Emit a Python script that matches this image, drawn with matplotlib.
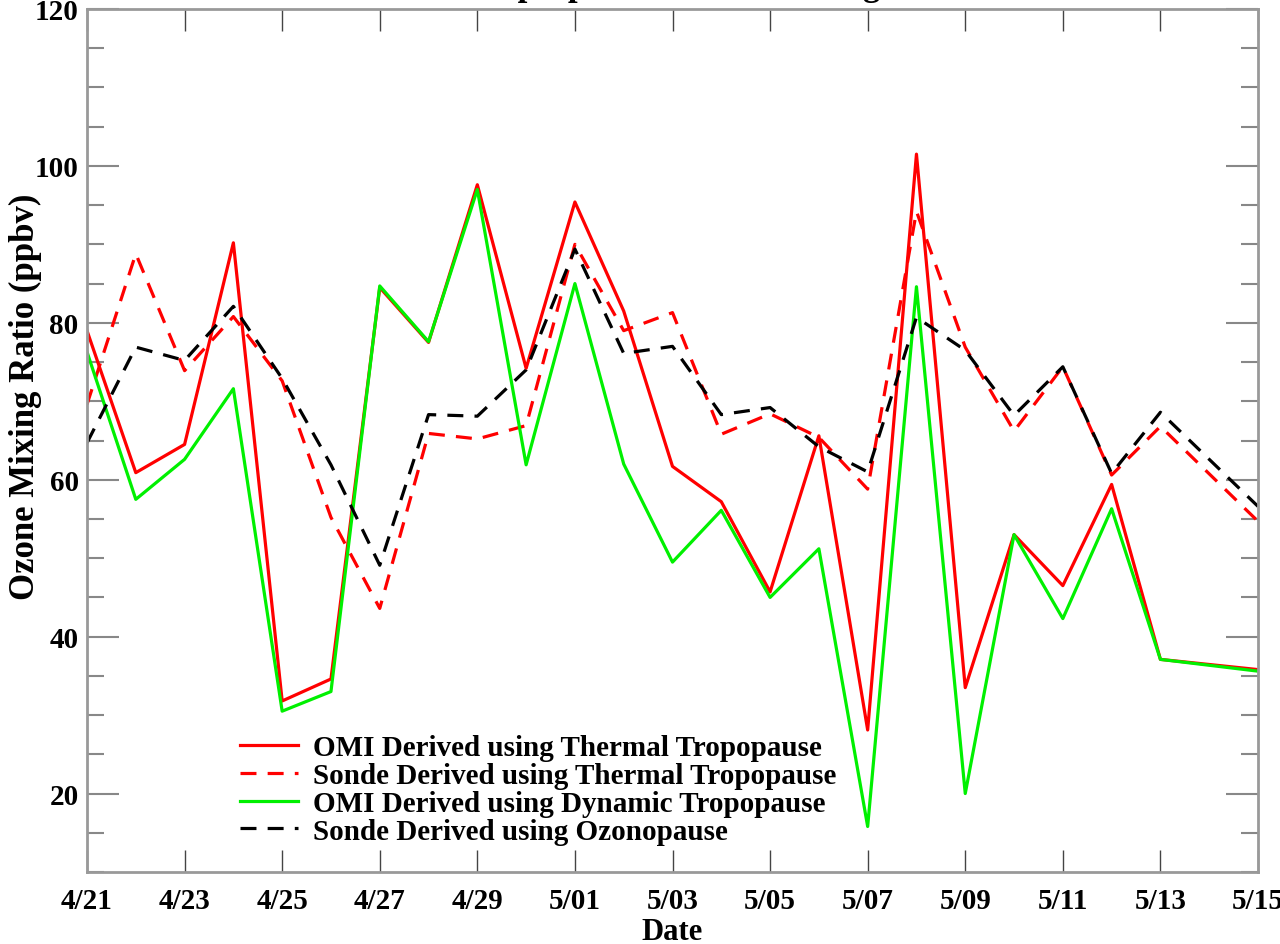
import matplotlib
matplotlib.use("Agg")
import matplotlib.pyplot as plt
from matplotlib.ticker import MultipleLocator
import pandas as pd

# ---- data ----
dates = ["2006-04-21", "2006-04-22", "2006-04-23", "2006-04-24", "2006-04-25",
         "2006-04-26", "2006-04-27", "2006-04-28", "2006-04-29", "2006-04-30",
         "2006-05-01", "2006-05-02", "2006-05-03", "2006-05-04", "2006-05-05",
         "2006-05-06", "2006-05-07", "2006-05-08", "2006-05-09", "2006-05-10",
         "2006-05-11", "2006-05-12", "2006-05-13", "2006-05-15"]

omi_thermal = [79.0, 60.9, 64.5, 90.2, 31.8, 34.6, 84.5, 77.5, 97.6, 74.2,
               95.4, 81.5, 61.7, 57.2, 45.7, 65.6, 28.1, 101.5, 33.5, 53.0,
               46.5, 59.4, 37.1, 35.8]
sonde_thermal = [69.6, 88.8, 73.9, 80.8, 72.6, 55.2, 43.6, 65.9, 65.2, 66.9,
                 90.0, 79.0, 81.3, 65.8, 68.4, 65.4, 58.8, 94.2, 76.9, 66.2,
                 74.4, 60.6, 66.8, 54.7]
omi_dynamic = [76.3, 57.5, 62.6, 71.6, 30.5, 33.0, 84.7, 77.6, 97.0, 61.9,
               85.0, 62.0, 49.5, 56.1, 45.0, 51.2, 15.8, 84.6, 20.0, 53.0,
               42.3, 56.3, 37.1, 35.6]
sonde_ozonopause = [64.7, 76.9, 75.2, 82.1, 72.9, 61.9, 49.1, 68.3, 68.1, 74.0,
                    89.4, 76.1, 77.0, 68.3, 69.2, 64.2, 61.0, 80.7, 76.5, 68.2,
                    74.4, 60.8, 68.6, 56.6]

series_labels = ["OMI Derived using Thermal Tropopause",
                 "Sonde Derived using Thermal Tropopause",
                 "OMI Derived using Dynamic Tropopause",
                 "Sonde Derived using Ozonopause"]

xtick_dates = ["2006-04-21", "2006-04-23", "2006-04-25", "2006-04-27", "2006-04-29",
               "2006-05-01", "2006-05-03", "2006-05-05", "2006-05-07", "2006-05-09",
               "2006-05-11", "2006-05-13", "2006-05-15"]
xtick_labels = ["4/21", "4/23", "4/25", "4/27", "4/29", "5/01", "5/03", "5/05",
                "5/07", "5/09", "5/11", "5/13", "5/15"]
ytick_values = [20, 40, 60, 80, 100, 120]

title_text = "Tropospheric Ozone Mixing"

# ---- style ----
plt.rcParams["font.family"] = ["Liberation Serif", "DejaVu Serif"]
plt.rcParams["font.weight"] = "bold"

x = pd.to_datetime(dates)
xt = pd.to_datetime(xtick_dates)

fig = plt.figure(figsize=(12.8, 9.45), dpi=100)
ax = fig.add_axes([87/1280, 1-873/945, (1258-87)/1280, (873-10)/945])

lw = 2.3
ax.plot(x, omi_thermal, color="#ff0000", lw=lw, label=series_labels[0])
ax.plot(x, sonde_thermal, color="#ff0000", lw=lw, dashes=(5, 3.5), label=series_labels[1])
ax.plot(x, omi_dynamic, color="#00f000", lw=lw, label=series_labels[2])
ax.plot(x, sonde_ozonopause, color="black", lw=lw, dashes=(5, 3.5), label=series_labels[3])

ax.set_xlim(xt[0], xt[-1])
ax.set_ylim(10, 120)
ax.set_xticks(xt)
ax.set_xticklabels(xtick_labels)
ax.set_yticks(ytick_values)
ax.yaxis.set_minor_locator(MultipleLocator(5))

ax.tick_params(axis="x", which="major", direction="in", length=16, width=1.0,
               color="#444444", top=True, bottom=True, labelsize=21, pad=11)
ax.tick_params(axis="y", which="major", direction="in", length=23, width=1.5,
               color="#888888", left=True, right=True, labelsize=21, pad=6)
ax.tick_params(axis="y", which="minor", direction="in", length=12, width=1.5,
               color="#888888", left=True, right=True)
for lab in ax.get_xticklabels() + ax.get_yticklabels():
    lab.set_fontweight("bold")

for sp in ax.spines.values():
    sp.set_color("#999999")
    sp.set_linewidth(2.0)

ax.set_xlabel("Date", fontsize=22, fontweight="bold")
ax.xaxis.set_label_coords((672-87)/(1258-87), -(918-873)/863)
ax.set_ylabel("Ozone Mixing Ratio (ppbv)", fontsize=25, fontweight="bold")
ax.yaxis.set_label_coords(-(87-42)/(1258-87), (873-397)/863)

leg = ax.legend(loc="upper left", bbox_to_anchor=(240/1280, 1-735/945),
                bbox_transform=fig.transFigure, frameon=False, fontsize=21,
                handlelength=2.0, handletextpad=0.5, labelspacing=0.03,
                borderpad=0, borderaxespad=0)
for t in leg.get_texts():
    t.set_fontweight("bold")

# title, mostly cut off at the top of the figure (as in the reference)
fig.text(0.5254, 1.0049, title_text, ha="center", va="baseline",
         fontsize=25, fontweight="bold")

fig.savefig("out.png", dpi=100)
